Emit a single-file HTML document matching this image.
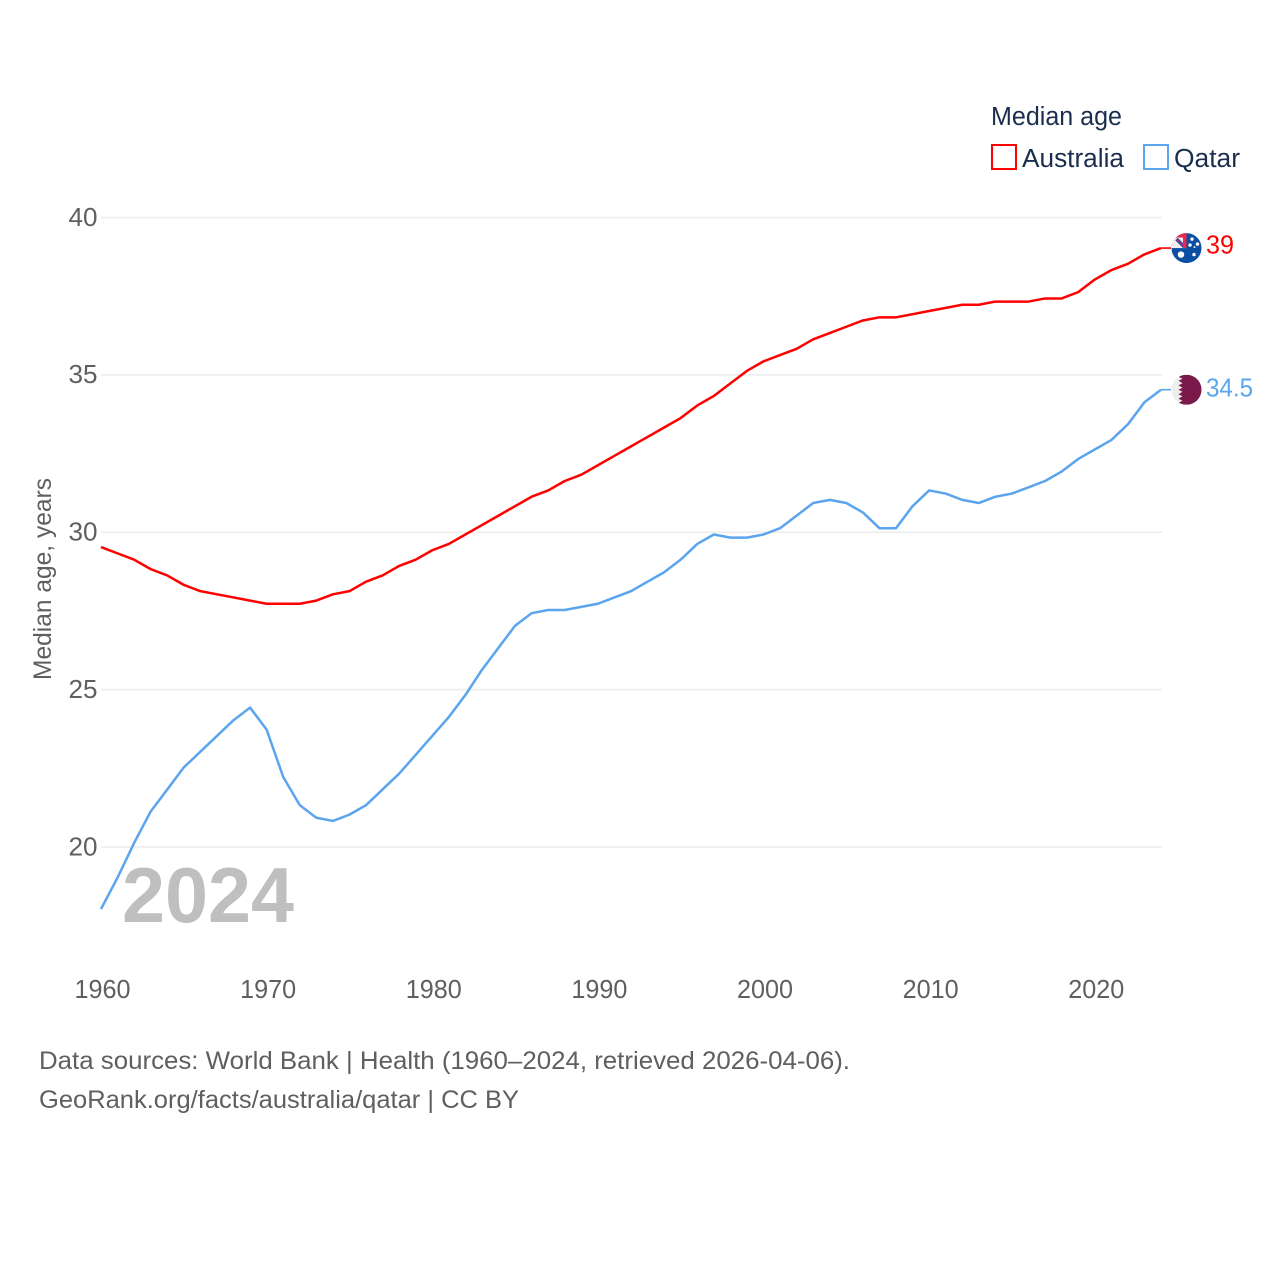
<!DOCTYPE html>
<html lang="en">
<head>
<meta charset="utf-8">
<title>Median age: Australia and Qatar</title>
<style>
html,body{margin:0;padding:0;background:#fff}
svg{display:block}
text{font-family:"Liberation Sans",sans-serif}
</style>
</head>
<body>
<svg id="chart" xmlns="http://www.w3.org/2000/svg" width="1280" height="1280" viewBox="0 0 1280 1280">
  <defs>
    <clipPath id="au-clip"><circle cx="0" cy="0" r="15"/></clipPath>
    <clipPath id="qa-clip"><circle cx="0" cy="0" r="15"/></clipPath>
  </defs>
  <rect width="1280" height="1280" fill="#fff"/>
  <g id="grid"></g>
  <g id="ytick-labels"></g>
  <g id="xtick-labels"></g>
  <text transform="translate(51,680) rotate(-90)" font-size="25" fill="#5f5f5f" textLength="202" lengthAdjust="spacingAndGlyphs">Median age, years</text>
  <text x="122" y="922" font-size="78" font-weight="700" fill="#bfbfbf" textLength="172" lengthAdjust="spacingAndGlyphs">2024</text>
  <g id="series"></g>

  <g id="flag-au">
    <g clip-path="url(#au-clip)">
      <rect x="-15" y="-15" width="30" height="30" fill="#0b4ea2"/>
      <rect x="-15" y="-15" width="15" height="15" fill="#f2eef0"/>
      <path d="M-10,-9 L-2,-1" stroke="#1a4a9f" stroke-width="3.5"/>
      <path d="M-10,-9 L-2,-1" stroke="#e0245e" stroke-width="1.3"/>
      <rect x="-15" y="-15" width="15" height="4.5" fill="#e8284f"/>
      <rect x="-3.5" y="-15" width="3.5" height="15" fill="#e8284f"/>
      <circle cx="-5.5" cy="6.5" r="3.2" fill="#fff"/>
      <circle cx="5.5" cy="-9" r="1.7" fill="#fff"/>
      <circle cx="11" cy="-4" r="1.7" fill="#fff"/>
      <circle cx="3.5" cy="-3" r="1.7" fill="#fff"/>
      <circle cx="7.5" cy="6.5" r="1.7" fill="#fff"/>
      <circle cx="8" cy="-1" r="0.9" fill="#fff"/>
    </g>
  </g>
  <g id="flag-qa">
    <g clip-path="url(#qa-clip)">
      <rect x="-15" y="-15" width="30" height="30" fill="#eeeeee"/>
      <path d="M-5,-15 L-8,-13 L-4,-11 L-8,-9 L-4,-6.5 L-8,-4.5 L-4,-2 L-8,0 L-4,2 L-8,4.5 L-4,6.5 L-8,9 L-4,11 L-8,13 L-5,15 L15,15 L15,-15 Z" fill="#7a1a4b"/>
    </g>
  </g>
  <g id="end-labels"></g>

  <g>
    <text x="991" y="125" font-size="25.5" fill="#1a2e4f" textLength="131" lengthAdjust="spacingAndGlyphs">Median age</text>
    <g>
      <rect x="992" y="145" width="24" height="24" fill="#fff" stroke="#ff0000" stroke-width="2"/>
      <text x="1022" y="167" font-size="25.5" fill="#1a2e4f" textLength="102" lengthAdjust="spacingAndGlyphs">Australia</text>
    </g>
    <g>
      <rect x="1144" y="145" width="24" height="24" fill="#fff" stroke="#5ba4ee" stroke-width="2"/>
      <text x="1174" y="167" font-size="25.5" fill="#1a2e4f" textLength="66" lengthAdjust="spacingAndGlyphs">Qatar</text>
    </g>
  </g>

  <text x="39" y="1069" font-size="25" fill="#5f5f5f" textLength="811" lengthAdjust="spacingAndGlyphs">Data sources: World Bank | Health (1960–2024, retrieved 2026-04-06).</text>
  <text x="39" y="1108" font-size="25" fill="#5f5f5f" textLength="480" lengthAdjust="spacingAndGlyphs">GeoRank.org/facts/australia/qatar | CC BY</text>
</svg>
<script>
const years = [1960,1961,1962,1963,1964,1965,1966,1967,1968,1969,1970,1971,1972,1973,1974,1975,1976,1977,1978,1979,1980,1981,1982,1983,1984,1985,1986,1987,1988,1989,1990,1991,1992,1993,1994,1995,1996,1997,1998,1999,2000,2001,2002,2003,2004,2005,2006,2007,2008,2009,2010,2011,2012,2013,2014,2015,2016,2017,2018,2019,2020,2021,2022,2023,2024];
const australiaValues = [29.5,29.3,29.1,28.8,28.6,28.3,28.1,28.0,27.9,27.8,27.7,27.7,27.7,27.8,28.0,28.1,28.4,28.6,28.9,29.1,29.4,29.6,29.9,30.2,30.5,30.8,31.1,31.3,31.6,31.8,32.1,32.4,32.7,33.0,33.3,33.6,34.0,34.3,34.7,35.1,35.4,35.6,35.8,36.1,36.3,36.5,36.7,36.8,36.8,36.9,37.0,37.1,37.2,37.2,37.3,37.3,37.3,37.4,37.4,37.6,38.0,38.3,38.5,38.8,39.0];
const qatarValues = [18.0,19.0,20.1,21.1,21.8,22.5,23.0,23.5,24.0,24.4,23.7,22.2,21.3,20.9,20.8,21.0,21.3,21.8,22.3,22.9,23.5,24.1,24.8,25.6,26.3,27.0,27.4,27.5,27.5,27.6,27.7,27.9,28.1,28.4,28.7,29.1,29.6,29.9,29.8,29.8,29.9,30.1,30.5,30.9,31.0,30.9,30.6,30.1,30.1,30.8,31.3,31.2,31.0,30.9,31.1,31.2,31.4,31.6,31.9,32.3,32.6,32.9,33.4,34.1,34.5];
const yTicks = [20,25,30,35,40];
const xTicks = [1960,1970,1980,1990,2000,2010,2020];

const SVG_NS = 'http://www.w3.org/2000/svg';
function xScale(year) { return 101 + (year - 1960) * (1161 - 101) / 64; }
function yScale(value) { return 846.1 + (value - 20) * (216.6 - 846.1) / 20; }
function make(tag, attrs, parent) {
  const el = document.createElementNS(SVG_NS, tag);
  for (const k in attrs) el.setAttribute(k, attrs[k]);
  parent.appendChild(el);
  return el;
}
const grid = document.getElementById('grid');
const yLabels = document.getElementById('ytick-labels');
const xLabels = document.getElementById('xtick-labels');
const seriesGroup = document.getElementById('series');
const endLabels = document.getElementById('end-labels');

yTicks.forEach(function (t) {
  const gy = yScale(t) + 0.9;
  const line = make('line', {x1: 101, x2: 1162, y1: gy, y2: gy, stroke: '#ececec', 'stroke-width': 1.6}, grid);
  
  
  const label = make('text', {x: 97.5, y: gy + 8.3, 'text-anchor': 'end', 'font-size': 26, fill: '#5f5f5f', textLength: 29, lengthAdjust: 'spacingAndGlyphs'}, yLabels);
  
  
  label.textContent = t;
});

xTicks.forEach(function (t) {
  const label = make('text', {x: xScale(t) + 1.5, y: 998, 'text-anchor': 'middle', 'font-size': 26, fill: '#5f5f5f', textLength: 56, lengthAdjust: 'spacingAndGlyphs'}, xLabels);
  
  
  label.textContent = t;
});

function pathFor(values) {
  return values.map(function (v, i) {
    return (i ? 'L' : 'M') + xScale(years[i]).toFixed(2) + ',' + yScale(v).toFixed(2);
  }).join(' ');
}

const australiaLine = make('path', {d: pathFor(australiaValues), fill: 'none', stroke: '#ff0000', 'stroke-width': 2.5, 'stroke-linejoin': 'round'}, seriesGroup);



const qatarLine = make('path', {d: pathFor(qatarValues), fill: 'none', stroke: '#5ba4ee', 'stroke-width': 2.5, 'stroke-linejoin': 'round'}, seriesGroup);



const lastAu = australiaValues[australiaValues.length - 1];
const lastQa = qatarValues[qatarValues.length - 1];
const lastX = xScale(years[years.length - 1]);

const auConnector = make('line', {x1: lastX, x2: 1171, y1: yScale(lastAu), y2: yScale(lastAu), stroke: '#ff0000', 'stroke-width': 1.6}, seriesGroup);



const qaConnector = make('line', {x1: lastX, x2: 1171, y1: yScale(lastQa), y2: yScale(lastQa), stroke: '#5ba4ee', 'stroke-width': 1.6}, seriesGroup);



document.getElementById('flag-au').setAttribute('transform', 'translate(1186.5,' + yScale(lastAu) + ')');
document.getElementById('flag-qa').setAttribute('transform', 'translate(1186.5,' + yScale(lastQa) + ')');

const auLabel = make('text', {x: 1206, y: yScale(lastAu) + 5.5, 'font-size': 25.5, fill: '#ff0000', textLength: 28, lengthAdjust: 'spacingAndGlyphs'}, endLabels);


auLabel.textContent = lastAu;

const qaLabel = make('text', {x: 1206, y: yScale(lastQa) + 7, 'font-size': 25.5, fill: '#5ba4ee', textLength: 47, lengthAdjust: 'spacingAndGlyphs'}, endLabels);


qaLabel.textContent = lastQa;
</script>
</body>
</html>
